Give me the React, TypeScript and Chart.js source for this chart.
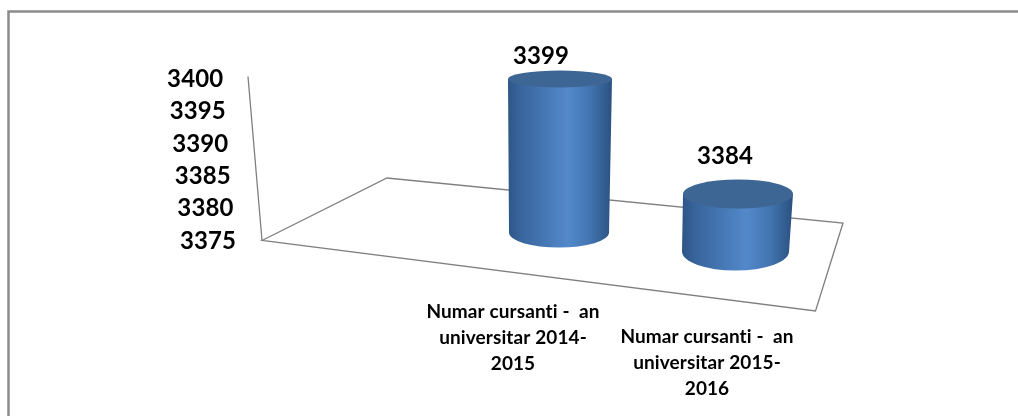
import React, { useEffect, useRef } from "react";
import { Chart, registerables } from "chart.js";

Chart.register(...registerables);

const categories = [
  ["Numar cursanti -  an", "universitar 2014-", "2015"],
  ["Numar cursanti -  an", "universitar 2015-", "2016"],
];
const seriesName = "Numar cursanti";
const seriesValues = [3399, 3384];
const axisMin = 3375;
const axisMax = 3400;
const axisStep = 5;

// Perspective styling for each cylinder, applied on top of the scale positions.
const cylinderStyle = [
  { shift: -7.4, topRx: 52, baseRx: 50, topRy: 8.5, baseRy: 15, baseDx: -1, labelDx: -19, labelDy: -30, catDx: -47, catDy: 72 },
  { shift: 11.6, topRx: 55, baseRx: 53.5, topRy: 14.5, baseRy: 19, baseDx: -2.5, labelDx: -13, labelDy: -26, catDx: -31, catDy: 97 },
];
const floorOutline = [
  [262, 240.5],
  [387, 178],
  [843, 223],
  [815.5, 311],
];
const wallTop = [248, 76.5];
const FONT_BIG = "bold 24px Lato";
const FONT_CAT = "bold 19px Lato";

const scene3d = {
  id: "scene3d",
  beforeDatasetsDraw(chart: any) {
    const ctx = chart.ctx;
    ctx.save();
    ctx.fillStyle = "#ffffff";
    ctx.fillRect(0, 0, chart.width, chart.height);
    // frame
    ctx.strokeStyle = "#8c8c8c";
    ctx.lineWidth = 2.5;
    ctx.beginPath();
    ctx.moveTo(8.5, chart.height + 4);
    ctx.lineTo(8.5, 11.5);
    ctx.lineTo(chart.width + 4, 11.5);
    ctx.stroke();
    // floor and wall
    ctx.strokeStyle = "#7f7f7f";
    ctx.lineWidth = 1.3;
    ctx.beginPath();
    floorOutline.forEach(([x, y], i) => (i ? ctx.lineTo(x, y) : ctx.moveTo(x, y)));
    ctx.closePath();
    ctx.moveTo(floorOutline[0][0], floorOutline[0][1]);
    ctx.lineTo(wallTop[0], wallTop[1]);
    ctx.stroke();
    ctx.restore();
  },
  afterDatasetsDraw(chart: any) {
    const ctx = chart.ctx;
    const y = chart.scales.y;
    const bars = chart.getDatasetMeta(0).data;
    const bottom = y.getPixelForValue(axisMin);
    ctx.save();
    ctx.letterSpacing = "0.1px"; // keeps "ti" from turning into a ligature
    bars.forEach((bar: any, i: number) => {
      const s = cylinderStyle[i];
      const cx = bar.x;
      const top = bar.y + s.shift;
      const base = bottom + s.shift;
      const bx = cx + s.baseDx;
      const g = ctx.createLinearGradient(cx - s.topRx, 0, cx + s.topRx, 0);
      g.addColorStop(0, "#2e5687");
      g.addColorStop(0.12, "#38659c");
      g.addColorStop(0.58, "#5389cb");
      g.addColorStop(0.8, "#4173ae");
      g.addColorStop(1, "#2b5080");
      ctx.fillStyle = g;
      ctx.beginPath();
      ctx.moveTo(cx - s.topRx, top);
      ctx.lineTo(bx - s.baseRx, base);
      ctx.ellipse(bx, base, s.baseRx, s.baseRy, 0, Math.PI, 0, true);
      ctx.lineTo(cx + s.topRx, top);
      ctx.closePath();
      ctx.fill();
      ctx.fillStyle = "#3e6694";
      ctx.beginPath();
      ctx.ellipse(cx, top, s.topRx, s.topRy, 0, 0, Math.PI * 2);
      ctx.fill();
      // value label
      ctx.fillStyle = "#000000";
      ctx.font = FONT_BIG;
      ctx.textAlign = "center";
      ctx.textBaseline = "middle";
      ctx.fillText(String(seriesValues[i]), cx + s.labelDx, bar.y + s.labelDy);
      // category label
      ctx.font = FONT_CAT;
      categories[i].forEach((line, k) => {
        ctx.fillText(line, cx + s.catDx, bottom + s.catDy + k * 25.7);
      });
    });
    // value axis labels follow the slanted wall
    ctx.font = FONT_BIG;
    ctx.textAlign = "right";
    ctx.textBaseline = "middle";
    ctx.fillStyle = "#000000";
    for (let v = axisMin; v <= axisMax; v += axisStep) {
      const p = y.getPixelForValue(v);
      const up = bottom - p;
      ctx.fillText(String(v), 236 - up * 0.08, p + 1 - up * 0.0125);
    }
    ctx.restore();
  },
};

export default function App() {
  const ref = useRef<HTMLCanvasElement>(null);
  useEffect(() => {
    const chart = new Chart(ref.current!, {
      type: "bar",
      data: {
        labels: categories.map((c) => c.join(" ")),
        datasets: [
          {
            label: seriesName,
            data: seriesValues,
            base: axisMin,
            backgroundColor: "rgba(0,0,0,0)",
            categoryPercentage: 1,
            barPercentage: 0.6,
          },
        ],
      },
      options: {
        animation: false,
        responsive: false,
        events: [],
        layout: { padding: { left: 471, right: 191, top: 80, bottom: 176 } },
        plugins: { legend: { display: false }, tooltip: { enabled: false } },
        scales: {
          x: { display: false },
          y: { display: false, min: axisMin, max: axisMax, ticks: { stepSize: axisStep } },
        },
      },
      plugins: [scene3d],
    });
    return () => chart.destroy();
  }, []);
  return (
    <div style={{ position: "fixed", left: 0, top: 0, width: 1018, height: 416, background: "#fff" }}>
      <canvas ref={ref} width={1018} height={416} style={{ display: "block", filter: "blur(0.4px)" }} />
    </div>
  );
}
